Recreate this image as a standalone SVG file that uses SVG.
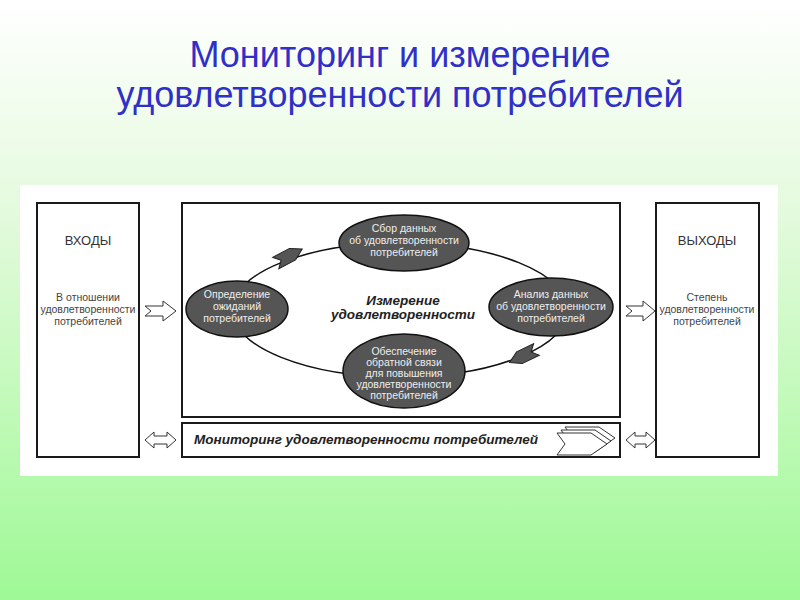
<svg xmlns="http://www.w3.org/2000/svg" width="800" height="600" viewBox="0 0 800 600">
<defs>
<linearGradient id="bg" x1="0" y1="0" x2="0" y2="1">
<stop offset="0" stop-color="#ffffff"/>
<stop offset="0.35" stop-color="#e4fadd"/>
<stop offset="1" stop-color="#9ff996"/>
</linearGradient>
<path id="dart" d="M15,0 L4,-6.5 L-15,-6.5 L-9,0 L-15,6.5 L4,6.5 Z"/>
<path id="chev" d="M0,0 L34,0 L50,11 L34,22 L0,22 L8,11 Z"/>
</defs>
<style>
.box{fill:#ffffff;stroke:#1a1a1a;stroke-width:2}
.ell{fill:#555555;stroke:#111111;stroke-width:1.5}
.et{font-family:"Liberation Sans",Arial,sans-serif;font-size:10.5px;fill:#eeeeee;text-anchor:middle}
.st{font-family:"Liberation Sans",Arial,sans-serif;font-size:10.5px;fill:#444444;text-anchor:middle}
.hd{font-family:"Liberation Sans",Arial,sans-serif;font-size:13px;fill:#333333;text-anchor:middle}
.bi{font-family:"Liberation Sans",Arial,sans-serif;font-size:13.5px;font-weight:bold;font-style:italic;fill:#222222;text-anchor:middle}
.ttl{font-family:"Liberation Sans",Arial,sans-serif;font-size:36px;fill:#3030c8;text-anchor:middle}
.blk{fill:#ffffff;stroke:#333333;stroke-width:1}
.cyc{fill:none;stroke:#111111;stroke-width:1.5}
.dart{fill:#555555;stroke:#222222;stroke-width:1}
</style>
<rect x="0" y="0" width="800" height="600" fill="url(#bg)"/>
<g id="title">
<text class="ttl" x="400" y="67">Мониторинг и измерение</text>
<text class="ttl" x="400" y="107">удовлетворенности потребителей</text>
</g>
<rect x="20" y="185" width="758" height="291" fill="#ffffff"/>
<g id="measurement">
<rect class="box" x="182" y="203" width="438" height="214"/>
</g>
<g id="connectors">
<ellipse class="cyc" cx="400" cy="310" rx="168" ry="67"/>
<use href="#dart" class="dart" transform="translate(289,256) rotate(-28)"/>
<use href="#dart" class="dart" transform="translate(523,356) rotate(154)"/>
<polygon class="blk" points="145,306 163,306 163,301 176,311 163,321 163,316 145,316 151,311"/>
<polygon class="blk" points="626,306 643,306 643,301 655,311 643,321 643,316 626,316 632,311"/>
<polygon class="blk" points="145,440 154,432 154,436 167,436 167,432 176,440 167,448 167,444 154,444 154,448"/>
<polygon class="blk" points="626,440 635,432 635,436 646,436 646,432 655,440 646,448 646,444 635,444 635,448"/>
</g>
<g id="inputs">
<rect class="box" x="37" y="203" width="102" height="254"/>
<text class="hd" x="88" y="245">ВХОДЫ</text>
<text class="st" x="88" y="301">В отношении</text>
<text class="st" x="88" y="313">удовлетворенности</text>
<text class="st" x="88" y="325">потребителей</text>
</g>
<g id="define">
<ellipse class="ell" cx="237" cy="309" rx="51" ry="28"/>
<text class="et" x="237" y="298">Определение</text>
<text class="et" x="237" y="310">ожиданий</text>
<text class="et" x="237" y="322">потребителей</text>
</g>
<g id="collect">
<ellipse class="ell" cx="404" cy="243" rx="65" ry="28"/>
<text class="et" x="404" y="232">Сбор данных</text>
<text class="et" x="404" y="244">об удовлетворенности</text>
<text class="et" x="404" y="256">потребителей</text>
</g>
<g id="analyze">
<ellipse class="ell" cx="551" cy="307" rx="62" ry="29"/>
<text class="et" x="551" y="298">Анализ данных</text>
<text class="et" x="551" y="310">об удовлетворенности</text>
<text class="et" x="551" y="322">потребителей</text>
</g>
<g id="feedback">
<ellipse class="ell" cx="404" cy="371" rx="61" ry="37"/>
<text class="et" x="404" y="355">Обеспечение</text>
<text class="et" x="404" y="366">обратной связи</text>
<text class="et" x="404" y="377">для повышения</text>
<text class="et" x="404" y="388">удовлетворенности</text>
<text class="et" x="404" y="399">потребителей</text>
</g>
<g id="center-label">
<text class="bi" x="403" y="305">Измерение</text>
<text class="bi" x="403" y="319">удовлетворенности</text>
</g>
<g id="monitoring">
<rect class="box" x="182" y="423" width="438" height="34"/>
<text class="bi" x="366" y="444">Мониторинг удовлетворенности потребителей</text>
<use href="#chev" class="blk" transform="translate(565,427)"/>
<use href="#chev" class="blk" transform="translate(561,430)"/>
<use href="#chev" class="blk" transform="translate(557,433)"/>
</g>
<g id="outputs">
<rect class="box" x="656" y="203" width="103" height="254"/>
<text class="hd" x="707" y="245">ВЫХОДЫ</text>
<text class="st" x="707" y="301">Степень</text>
<text class="st" x="707" y="313">удовлетворенности</text>
<text class="st" x="707" y="325">потребителей</text>
</g>
</svg>
